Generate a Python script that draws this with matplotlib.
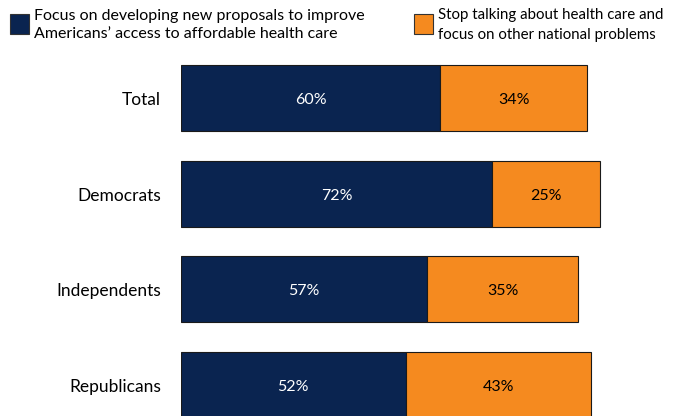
import matplotlib
matplotlib.use("Agg")
import matplotlib.pyplot as plt
from matplotlib.patches import Rectangle

categories = ["Total", "Democrats", "Independents", "Republicans"]
focus = [60, 72, 57, 52]
stop = [34, 25, 35, 43]
legend_labels = ["Focus on developing new proposals to improve\nAmericans\u2019 access to affordable health care",
                 "Stop talking about health care and\nfocus on other national problems"]

navy = "#0a2450"
orange = "#f58a1f"
plt.rcParams['font.family'] = ['Lato', 'DejaVu Sans']

W, H = 681, 416
fig = plt.figure(figsize=(W / 100, H / 100), dpi=100)
# axes: x from 181px, 4.32 px per percent
ax = fig.add_axes([181 / W, 0, 432 / W, 366 / H])
ax.set_xlim(0, 100)
ax.set_ylim(3.324, -0.5)
ax.axis("off")

dy = 2 / 95.7
y = list(range(len(categories)))
ax.barh(y, focus, height=0.69, color=navy, edgecolor="#1a1a1a", linewidth=0.8)
ax.barh(y, stop, left=focus, height=0.69, color=orange, edgecolor="#1a1a1a", linewidth=0.8)
for i, (f, s) in enumerate(zip(focus, stop)):
    ax.text(f / 2, i + dy, f"{f}%", ha="center", va="center", color="white", fontsize=11.5)
    ax.text(f + s / 2, i + dy, f"{s}%", ha="center", va="center", color="black", fontsize=11.5)
    ax.text(-20 / 4.32, i + dy, categories[i], ha="right", va="center", color="black", fontsize=12.5)

# legend
for (x0, col, lab, fs) in [(10, navy, legend_labels[0], 11.5), (414, orange, legend_labels[1], 10.8)]:
    fig.patches.append(Rectangle((x0 / W, 1 - 34 / H), 19 / W, 20 / H, transform=fig.transFigure,
                                 facecolor=col, edgecolor="#333333", linewidth=0.8))
    fig.text((x0 + 24) / W, 1 - 25 / H, lab, ha="left", va="center", fontsize=fs,
             linespacing=1.45 * 11.5 / fs)

fig.savefig("out.png", dpi=100)
